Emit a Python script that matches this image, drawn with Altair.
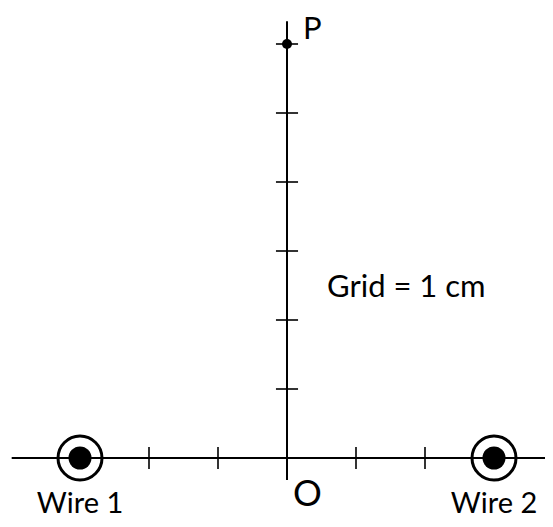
import altair as alt
import pandas as pd

# Geometry in grid units (1 grid = 1 cm)
axis_x = [-3.99, 4.0]           # horizontal axis extent
axis_y = [-0.32, 6.33]          # vertical axis extent
h_ticks = [-2, -1, 1, 2]        # ticks on horizontal axis
v_ticks = [1, 2, 3, 4, 5, 6]    # ticks on vertical axis
tick_half = 0.16
wire_x = [-3, 3]
wire_names = ["Wire 1", "Wire 2"]
point_p = (0, 6)

W, H = 537, 511
X_DOM = [(8 - 287) / 69, (8 + W - 287) / 69]
Y_DOM = [(458 - 8 - H) / 69, (458 - 8) / 69]

xs = alt.Scale(domain=X_DOM, nice=False, zero=False)
ys = alt.Scale(domain=Y_DOM, nice=False, zero=False)

axes = pd.DataFrame({
    "x": [axis_x[0], 0], "x2": [axis_x[1], 0],
    "y": [0, axis_y[0]], "y2": [0, axis_y[1]],
})
ticks = pd.DataFrame(
    [{"x": t, "x2": t, "y": -tick_half, "y2": tick_half} for t in h_ticks]
    + [{"x": -tick_half, "x2": tick_half, "y": t, "y2": t} for t in v_ticks]
)
wires = pd.DataFrame({"x": wire_x, "y": [0, 0], "name": wire_names})
pdot = pd.DataFrame({"x": [point_p[0]], "y": [point_p[1]]})

enc = dict(x=alt.X("x:Q", scale=xs, axis=None), y=alt.Y("y:Q", scale=ys, axis=None))

axis_lines = alt.Chart(axes).mark_rule(color="black", strokeWidth=2).encode(
    x2="x2:Q", y2="y2:Q", **enc)
tick_lines = alt.Chart(ticks).mark_rule(color="black", strokeWidth=1.6).encode(
    x2="x2:Q", y2="y2:Q", **enc)
rings = alt.Chart(wires).mark_point(shape="circle", size=44 * 44, filled=False,
                                    color="black", strokeWidth=3, opacity=1).encode(**enc)
dots = alt.Chart(wires).mark_point(shape="circle", size=23 * 23, filled=True,
                                   color="black", opacity=1).encode(**enc)
p_dot = alt.Chart(pdot).mark_point(shape="circle", size=100, filled=True,
                                   color="black", opacity=1).encode(**enc)

FONT = "Lato"
wire_labels = alt.Chart(wires).transform_calculate(ly="-0.79").mark_text(
    font=FONT, fontSize=29, align="center", baseline="alphabetic", color="black"
).encode(x=alt.X("x:Q", scale=xs, axis=None), y=alt.Y("ly:Q", scale=ys, axis=None), text="name:N")

labels = pd.DataFrame({
    "x": [0.232, 0.087, 0.58],
    "y": [6.07, -0.696, 2.333],
    "t": ["P", "O", "Grid = 1 cm"],
    "s": [31, 36, 31],
})
text_marks = alt.Chart(labels).mark_text(
    font=FONT, align="left", baseline="alphabetic", color="black"
).encode(text="t:N", size=alt.Size("s:Q", scale=None, legend=None), **enc)

chart = alt.layer(axis_lines, tick_lines, rings, dots, p_dot, wire_labels, text_marks).properties(
    width=W, height=H,
    autosize=alt.AutoSizeParams(type="none"),
    padding=0,
).configure_view(stroke=None)

chart.save("out.html", embed_options={"renderer": "svg", "actions": False})
